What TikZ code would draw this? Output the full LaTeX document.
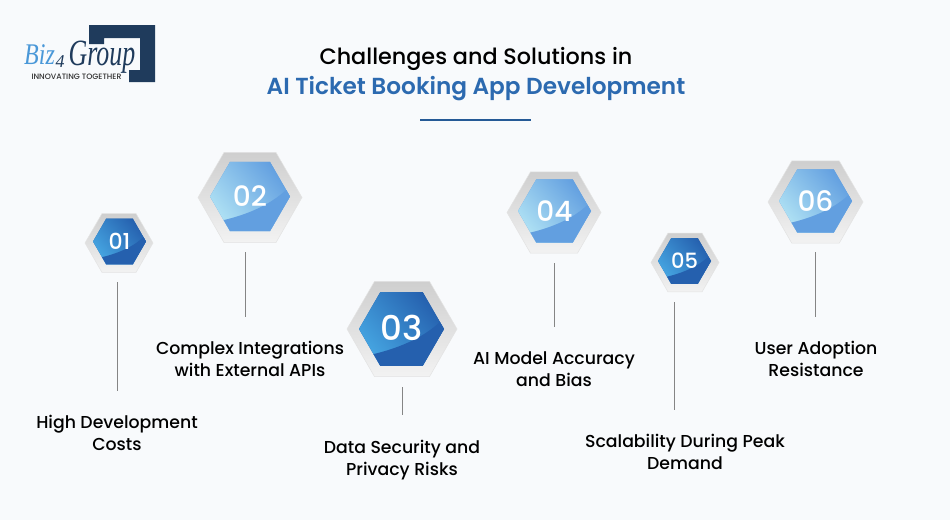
\documentclass[tikz,border=0pt]{standalone}
\usepackage{fontspec}
\setmainfont{Poppins}[UprightFont=* Medium,BoldFont=* SemiBold]
\newfontfamily\logofont{Liberation Serif}
\usetikzlibrary{shapes.geometric,calc}
\definecolor{pagebg}{HTML}{F8FAFC}
\definecolor{navy}{HTML}{1F3B5C}
\definecolor{titleblue}{HTML}{2C6AB0}
\definecolor{skyblue}{HTML}{4A98D8}
\definecolor{lightcore}{HTML}{629FE0}
\definecolor{lightmid}{HTML}{6CA8E3}
\definecolor{lightglow}{HTML}{B0E2F4}
\definecolor{darkcore}{HTML}{2560AE}
\definecolor{darkmid}{HTML}{2A66B4}
\definecolor{darkglow}{HTML}{46A6E2}
\tikzset{
	rim/.style={regular polygon,regular polygon sides=6,minimum size=#1,inner sep=0pt,
		top color=black!19,bottom color=black!5,draw=black!11,line width=0.5pt},
	cell/.style n args={4}{regular polygon,regular polygon sides=6,minimum size=#1,inner sep=0pt,text=white,
		fill=#2,path picture={
			\coordinate (corner) at (path picture bounding box.south west);
			\shade[top color=#2,middle color=#3,bottom color=#4,shading angle=-50]
				(path picture bounding box.south west) rectangle (path picture bounding box.north east);
			\fill[#2] ($(corner)+(0,0.1*#1)$) .. controls ($(corner)+(0.35*#1,0.17*#1)$)
				and ($(corner)+(0.72*#1,0.28*#1)$) .. ($(corner)+(#1,0.56*#1)$)
				-- ($(corner)+(#1,-0.1*#1)$) -- ($(corner)+(0,-0.1*#1)$) -- cycle;
		}},
	lightcell/.style={cell={#1}{lightcore}{lightmid}{lightglow}},
	darkcell/.style={cell={#1}{darkcore}{darkmid}{darkglow}},
	caption/.style={align=center,inner sep=0pt,font=\fontsize{17.3}{22}\selectfont,text=black},
	stem/.style={draw=black!48,line width=0.9pt,shorten >=24.5pt}
}
\begin{document}
\begin{tikzpicture}[x=1pt,y=-1pt]
	\useasboundingbox[fill=pagebg] (0,0) rectangle (950,520);

	\fill[navy] (89,25) -- (155,25) -- (155,82) -- (129,82) -- (129,70) -- (140,70)
		-- (140,38) -- (104,38) -- (104,44) -- (89,44) -- cycle;
	\node[inner sep=0pt,text=skyblue,font=\logofont\itshape\fontsize{30}{30}\selectfont] (logobiz) at (39.5,55) {\scalebox{0.8}[1]{Biz}};
	\node[inner sep=0pt,text=navy,font=\logofont\itshape\fontsize{18}{18}\selectfont] (logofour) at (60,62) {4};
	\node[inner sep=0pt,text=navy,font=\logofont\itshape\fontsize{37}{37}\selectfont] (logogroup) at (102,57) {\scalebox{0.7}[1]{Group}};
	\node[inner sep=0pt,text=black!80,font=\fontsize{7.8}{9}\selectfont] (logotag) at (76.5,76.5) {INNOVATING TOGETHER};

	\node[inner sep=0pt,font=\fontsize{22.3}{26}\selectfont] (titletop) at (476,58.5) {Challenges and Solutions in};
	\node[inner sep=0pt,font=\fontsize{23.2}{26}\selectfont\bfseries,text=titleblue] (titlemain) at (476,89) {AI Ticket Booking App Development};
	\coordinate (ruleleft) at (420,120);
	\coordinate (ruleright) at (531,120);
	\draw[titleblue!85!black,line width=1.4pt] (ruleleft) -- (ruleright);

	\node[rim=68pt] (rima) at (119,243) {};
	\node[darkcell=53pt,font=\fontsize{22}{22}\selectfont] (cella) at (119.5,241.5) {01};
	\node[rim=104pt] (rimb) at (250,197.5) {};
	\node[lightcell=80pt,font=\fontsize{28}{28}\selectfont] (cellb) at (250,196.5) {02};
	\node[rim=110pt] (rimc) at (402,329) {};
	\node[darkcell=85pt,font=\fontsize{34}{34}\selectfont] (cellc) at (401.5,329) {\raisebox{2.5pt}{03}};
	\node[rim=94pt] (rimd) at (554,212.5) {};
	\node[lightcell=73pt,font=\fontsize{28}{28}\selectfont] (celld) at (554.5,211) {04};
	\node[rim=68pt] (rime) at (685,262.5) {};
	\node[darkcell=53pt,font=\fontsize{21}{21}\selectfont] (celle) at (684.5,261) {05};
	\node[rim=95pt] (rimf) at (815.5,202) {};
	\node[lightcell=73pt,font=\fontsize{28}{28}\selectfont] (cellf) at (815.5,201) {06};

	\node[caption] (texta) at (117,433) {High Development\\Costs};
	\node[caption] (textb) at (250,359) {Complex Integrations\\with External APIs};
	\node[caption] (textc) at (402,460) {Data Security and\\Privacy Risks};
	\node[caption] (textd) at (554,369) {AI Model Accuracy\\and Bias};
	\node[caption] (texte) at (685,452) {Scalability During Peak\\Demand};
	\node[caption] (textf) at (816,359) {User Adoption\\Resistance};

	\coordinate (stema) at (117,282);
	\coordinate (stemb) at (245,252);
	\coordinate (stemc) at (402,387);
	\coordinate (stemd) at (554,263);
	\coordinate (steme) at (674,302);
	\coordinate (stemf) at (815,252);
	\draw[stem] (stema) -- (stema |- texta.north);
	\draw[stem] (stemb) -- (stemb |- textb.north);
	\draw[stem] (stemc) -- (stemc |- textc.north);
	\draw[stem] (stemd) -- (stemd |- textd.north);
	\draw[stem] (steme) -- (steme |- texte.north);
	\draw[stem] (stemf) -- (stemf |- textf.north);
\end{tikzpicture}
\end{document}
